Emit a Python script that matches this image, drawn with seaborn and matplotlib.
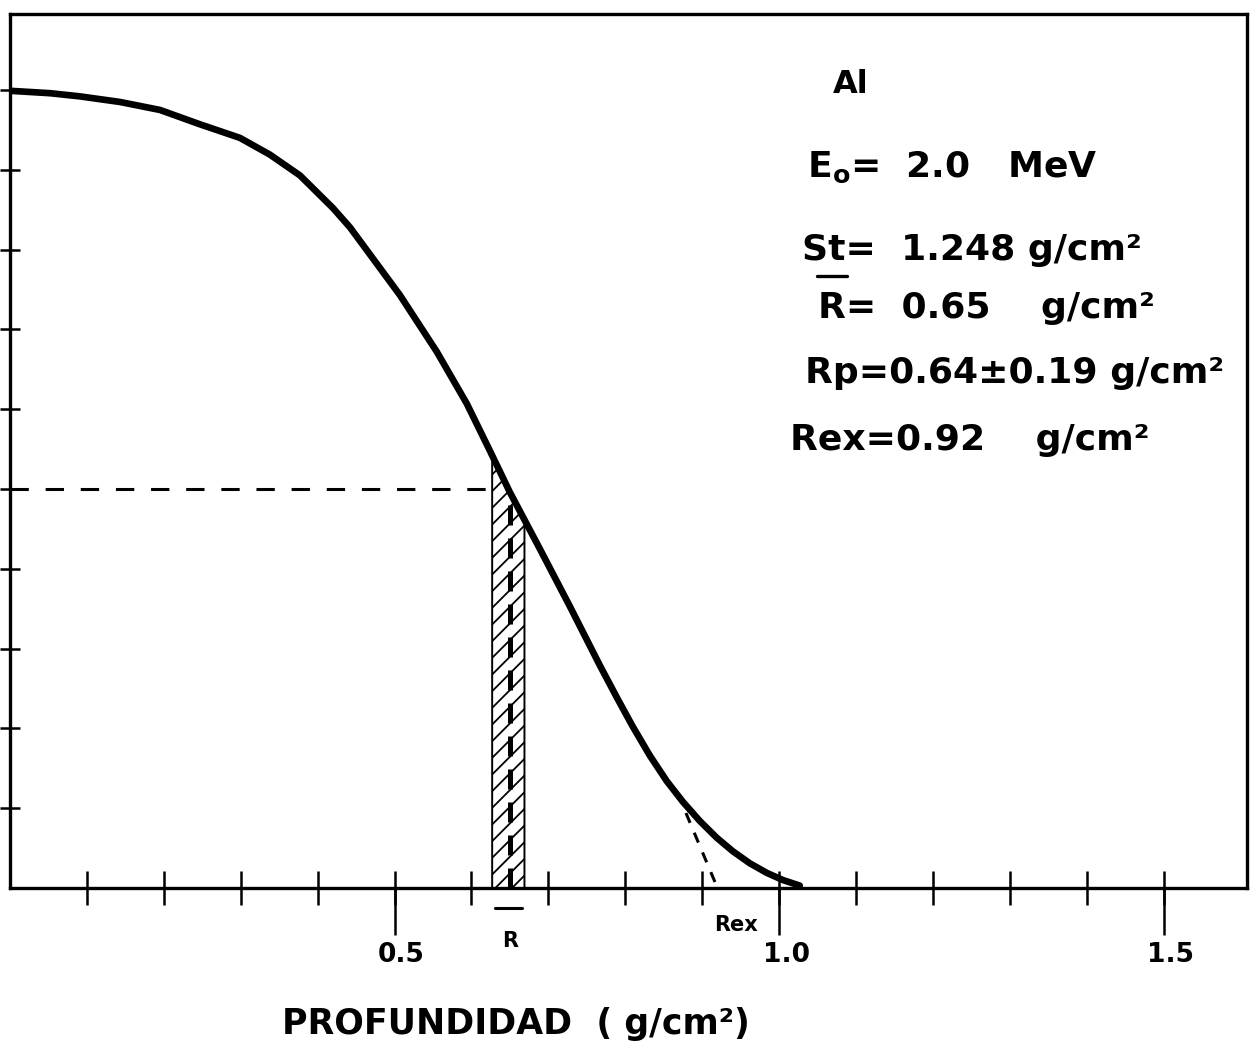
import numpy as np
import pandas as pd
import matplotlib
matplotlib.use("Agg")
import matplotlib.pyplot as plt
from matplotlib.lines import Line2D
import matplotlib.transforms as mtransforms
import seaborn as sns

# Transmission curve of electrons in aluminium (relative transmission vs. depth)
depth = [0.000, 0.052, 0.091, 0.143, 0.195, 0.247, 0.299, 0.338, 0.377, 0.420,
         0.442, 0.468, 0.507, 0.555, 0.594, 0.624, 0.650, 0.689, 0.728, 0.767,
         0.789, 0.810, 0.832, 0.854, 0.875, 0.897, 0.919, 0.940, 0.962, 0.984,
         1.005, 1.027]
transmission = [0.999, 0.996, 0.992, 0.985, 0.975, 0.957, 0.940, 0.919, 0.893, 0.852,
                0.828, 0.794, 0.743, 0.672, 0.607, 0.548, 0.496, 0.425, 0.353, 0.279,
                0.239, 0.202, 0.166, 0.134, 0.108, 0.084, 0.063, 0.046, 0.031, 0.019,
                0.010, 0.003]

r_mean = 0.65          # mean range (g/cm2)
band = [0.627, 0.669]  # hatched interval around the mean range
half_level = 0.5       # transmission level of the mean range
rex = 0.92             # extrapolated range (g/cm2)
tangent_start = [0.879, 0.094]

x_major = [0.5, 1.0, 1.5]
x_major_labels = ["0.5", "1.0", "1.5"]
x_minor = [round(0.1 * i, 1) for i in range(1, 16)]
y_ticks = [round(0.1 * i, 1) for i in range(1, 11)]

info_lines = [
    "Al",
    "E$_\\mathrm{o}$=  2.0   MeV",
    "St=  1.248 g/cm²",
    "R=  0.65    g/cm²",
    "Rp=0.64±0.19 g/cm²",
    "Rex=0.92    g/cm²",
]

sns.set_theme(style="white")
plt.rcParams["font.family"] = ["DejaVu Sans"]
plt.rcParams["text.color"] = "black"
plt.rcParams["xtick.color"] = "black"
plt.rcParams["ytick.color"] = "black"
plt.rcParams["mathtext.fontset"] = "custom"
plt.rcParams["mathtext.rm"] = "DejaVu Sans:bold"
plt.rcParams["mathtext.bf"] = "DejaVu Sans:bold"
plt.rcParams["mathtext.it"] = "DejaVu Sans:bold"
plt.rcParams["hatch.linewidth"] = 1.3
plt.rcParams["hatch.color"] = "black"

W, H = 1257, 1050
fig = plt.figure(figsize=(W / 100, H / 100), dpi=100)
fig.patch.set_facecolor("white")
ax = fig.add_axes([10 / W, 162 / H, 1237 / W, 874 / H])
ax.set_facecolor("white")

df = pd.DataFrame({"depth": depth, "transmission": transmission})
sns.lineplot(data=df, x="depth", y="transmission", ax=ax, color="black",
             linewidth=4.8, solid_capstyle="round", solid_joinstyle="round",
             zorder=5)

# hatched band under the curve around the mean range
bx = np.linspace(band[0], band[1], 30)
by = np.interp(bx, depth, transmission)
ax.fill_between(bx, 0, by, facecolor="none", edgecolor="black",
                hatch="//", linewidth=1.4, zorder=3)

# mean range marker
r_top = np.interp(r_mean, depth, transmission)
ax.plot([r_mean, r_mean], [0, r_top], color="black", linewidth=3.6,
        linestyle=(0, (4.0, 2.6)), zorder=4)

# half-transmission guide
ax.plot([0, band[0]], [half_level, half_level], color="black", linewidth=2.2,
        linestyle=(0, (6.0, 5.5)), zorder=2)

# extrapolation tangent down to Rex
ax.plot([tangent_start[0], rex], [tangent_start[1], 0], color="black",
        linewidth=2.2, linestyle=(0, (3.5, 3.5)), zorder=2)

ax.set_xlim(0, 1237 / 769)
ax.set_ylim(0, 874 / 798)

for s in ax.spines.values():
    s.set_visible(True)
    s.set_color("black")
    s.set_linewidth(2.4)

ax.xaxis.remove_overlapping_locs = False
ax.set_xticks(x_major)
ax.set_xticklabels(x_major_labels, fontsize=19, fontweight="bold", color="black")
ax.set_xticks(x_minor, minor=True)
ax.tick_params(axis="x", which="major", direction="out", length=34, width=1.8,
               color="black", pad=5, bottom=True, labelcolor="black")
ax.tick_params(axis="x", which="minor", direction="inout", length=25, width=1.8,
               color="black", bottom=True)
offset = mtransforms.ScaledTranslation(7 / 100, 0, fig.dpi_scale_trans)
for lab in ax.get_xticklabels():
    lab.set_transform(lab.get_transform() + offset)

ax.set_yticks(y_ticks)
ax.set_yticklabels([])
ax.tick_params(axis="y", which="major", direction="inout", length=15, width=1.8,
               color="black", left=True)
ax.set_xlabel("")
ax.set_ylabel("")

# labels on the depth axis
ax.text(r_mean, -0.066, "R", ha="center", va="center",
        fontsize=15, fontweight="bold", clip_on=False)
fig.add_artist(Line2D([495 / W, 522 / W], [1 - 908 / H, 1 - 908 / H],
                      color="black", linewidth=2.2))
ax.text(rex + 0.024, -0.046, "Rex", ha="center", va="center", fontsize=15,
        fontweight="bold", clip_on=False)

# information block
positions = [(833, 93, 23), (807, 177, 26), (802, 260, 26),
             (818, 318, 26), (805, 383, 26), (790, 450, 26)]
for txt, (px, py, fs) in zip(info_lines, positions):
    fig.text(px / W, 1 - py / H, txt, ha="left", va="baseline",
             fontsize=fs, fontweight="bold", color="black")
fig.add_artist(Line2D([817 / W, 847 / W], [1 - 276 / H, 1 - 276 / H],
                      color="black", linewidth=2.4))

fig.text(516 / W, 1 - 1034 / H, "PROFUNDIDAD  ( g/cm²)", ha="center",
         va="baseline", fontsize=25, fontweight="bold", color="black")

fig.savefig("out.png", dpi=100, facecolor="white")
